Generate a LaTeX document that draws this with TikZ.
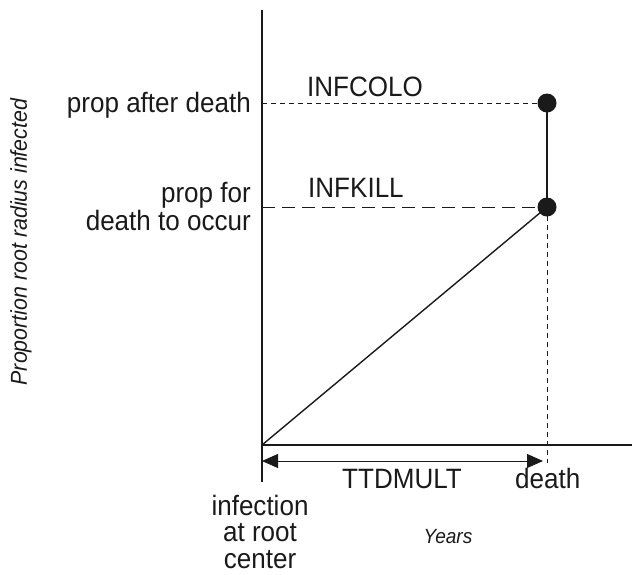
\documentclass[tikz,border=0pt]{standalone}
\usepackage{fontspec}
\setmainfont[FakeStretch=0.93]{Liberation Sans}
\usetikzlibrary{arrows.meta}
\definecolor{ink}{HTML}{1A1A1A}
\begin{document}
\begin{tikzpicture}[x=1pt,y=-1pt,
  lbl/.style={inner sep=0pt, font=\fontsize{28}{28}\selectfont, text=ink},
  small/.style={inner sep=0pt, font=\fontsize{20.5}{20.5}\selectfont\itshape, text=ink},
  axis/.style={draw=ink, line width=1.8pt},
  curve/.style={draw=ink, line width=1.4pt},
  guide/.style={draw=ink, line width=0.9pt},
  dot/.style={circle, fill=ink, inner sep=0pt, minimum size=19pt},
  span/.style={draw=ink, line width=1pt,
    {Triangle[length=16pt,width=14pt]}-{Triangle[length=16pt,width=14pt]}}]
  % canvas
  \useasboundingbox (0,0) rectangle (632,574);

  % key points
  \coordinate (ytop) at (262,10);
  \coordinate (ybot) at (262,482);
  \coordinate (O)    at (262,445);
  \coordinate (xend) at (632,445);
  \coordinate (yc)   at (262,103);
  \coordinate (yk)   at (262,207);
  \coordinate (pc)   at (547,103);
  \coordinate (pk)   at (547,207);
  \coordinate (dx)   at (547,463);
  \coordinate (a1)   at (262,461);
  \coordinate (a2)   at (543,461);

  % axes
  \draw[axis] (ytop) -- (ybot);
  \draw[axis] (O) -- (xend);

  % guide lines
  \draw[guide, dash pattern=on 5pt off 4pt] (yc) -- (pc);
  \draw[guide, dash pattern=on 13pt off 7pt] (yk) -- (pk);
  \draw[guide, dash pattern=on 5pt off 4pt] (pk) -- (dx);

  % infection curve
  \draw[curve] (O) -- (pk);
  \draw[axis] (pk) -- (pc);
  \node[dot] (kill) at (pk) {};
  \node[dot] (colo) at (pc) {};

  % time to death
  \draw[span] (a1) -- (a2);

  % labels (multi-line nodes are placed by the baseline of their last line)
  \node[lbl, anchor=base east] (after) at (251,112) {prop after death};
  \node[lbl, anchor=base east, align=right,
        font=\fontsize{28}{24}\selectfont] (for) at (251,230) {prop for\\death to occur};
  \node[lbl, anchor=base west] (infcolo) at (307,96) {INFCOLO};
  \node[lbl, anchor=base west] (infkill) at (308,197) {INFKILL};
  \node[lbl, anchor=base west] (ttd) at (342,488) {TTDMULT};
  \node[lbl, anchor=base west] (death) at (515,488) {death};
  \node[lbl, anchor=base, align=center,
        font=\fontsize{28}{26.5}\selectfont] (inf) at (260,568) {infection\\at root\\center};
  \node[small, anchor=base] (years) at (448,543) {Years};
  \node[small, anchor=base, rotate=90, font=\fontsize{23}{23}\selectfont\itshape]
    (ylab) at (27,242) {Proportion root radius infected};
\end{tikzpicture}
\end{document}
